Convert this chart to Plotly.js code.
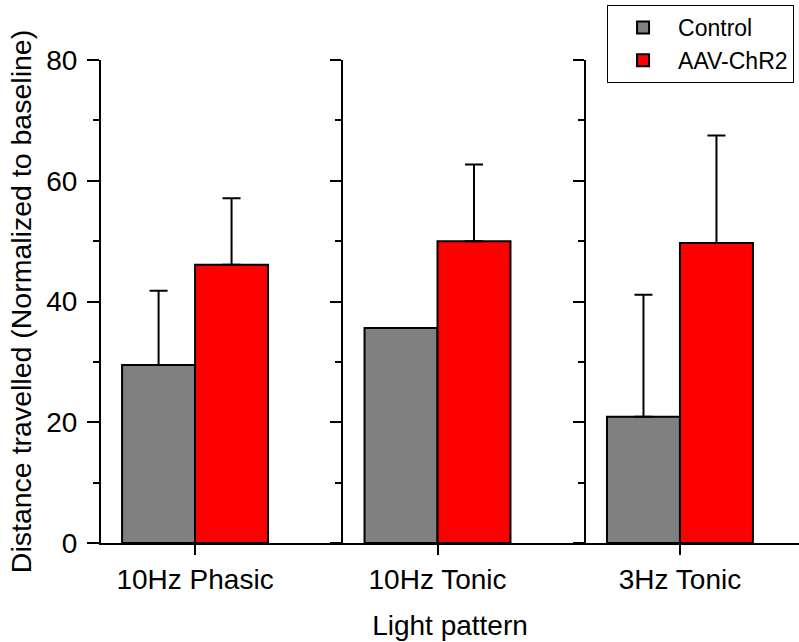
<!DOCTYPE html>
<html>
<head>
<meta charset="utf-8">
<script src="https://cdn.plot.ly/plotly-3.0.1.min.js"></script>
<style>html,body{margin:0;padding:0;background:#fff;}#chart{width:799px;height:642px;}</style>
</head>
<body>
<div id="chart"></div>
<script>
const categories = ["10Hz Phasic", "10Hz Tonic", "3Hz Tonic"];
const controlMean = [29.5, 35.6, 20.9];
const controlErr = [12.3, 0, 20.2];
const chr2Mean = [46.1, 50.0, 49.7];
const chr2Err = [11.0, 12.7, 17.8];
const seriesNames = ["Control", "AAV-ChR2"];
const yTickVals = [0, 20, 40, 60, 80];

const FONT = "Liberation Sans, Arial, sans-serif";

function errBar(vals) {
  return {type: "data", symmetric: false, array: vals, arrayminus: vals.map(() => 0),
          color: "#000", thickness: 2, width: 9};
}

const traces = [
  {type: "bar", name: seriesNames[0], x: categories, y: controlMean,
   marker: {color: "#808080", line: {color: "#000", width: 2}},
   error_y: errBar(controlErr)},
  {type: "bar", name: seriesNames[1], x: categories, y: chr2Mean,
   marker: {color: "#ff0000", line: {color: "#000", width: 2}},
   error_y: errBar(chr2Err)},
  // empty helper traces so the panel-divider axes are drawn
  {type: "scatter", x: [], y: [], yaxis: "y2", showlegend: false, hoverinfo: "skip"},
  {type: "scatter", x: [], y: [], yaxis: "y3", showlegend: false, hoverinfo: "skip"}
];

const sepAxis = (pos) => ({
  overlaying: "y", anchor: "free", position: pos, side: "left",
  range: [0, 80], showline: true, linecolor: "#000", linewidth: 2,
  showgrid: false, zeroline: false, showticklabels: false,
  ticks: "outside", ticklen: 11, tickwidth: 2, tickcolor: "#000",
  tickvals: yTickVals,
  minor: {dtick: 10, ticks: "outside", ticklen: 6, tickwidth: 2, tickcolor: "#000"}
});

const layout = {
  width: 799, height: 642,
  margin: {l: 101, r: 0, t: 60, b: 99, pad: 0},
  paper_bgcolor: "#fff", plot_bgcolor: "#fff",
  font: {family: FONT, size: 28, color: "#000"},
  barmode: "group", bargap: 0.398, bargroupgap: 0,
  showlegend: true,
  legend: {x: 0.725, y: 1.114, xanchor: "left", yanchor: "top",
           bgcolor: "#fff", bordercolor: "#000", borderwidth: 1,
           font: {family: FONT, size: 23, color: "#000"},
           itemwidth: 60, tracegroupgap: 0},
  xaxis: {type: "category", range: [-0.388, 2.491], automargin: false,
          showline: true, linecolor: "#000", linewidth: 2, showgrid: false, zeroline: false,
          ticks: "outside", ticklen: 10, tickwidth: 2, tickcolor: "#000",
          tickfont: {family: FONT, size: 28},
          title: {text: "Light pattern", font: {family: FONT, size: 28}, standoff: 22}},
  yaxis: {range: [0, 80], automargin: false,
          showline: true, linecolor: "#000", linewidth: 2, showgrid: false, zeroline: false,
          tickvals: yTickVals, ticks: "outside", ticklen: 12, tickwidth: 2, tickcolor: "#000",
          minor: {dtick: 10, ticks: "outside", ticklen: 6, tickwidth: 2, tickcolor: "#000"},
          ticklabelstandoff: 4,
          tickfont: {family: FONT, size: 28},
          title: {text: "Distance travelled (Normalized to baseline)", font: {family: FONT, size: 28.5}, standoff: 6}},
  yaxis2: sepAxis(241 / 698),
  yaxis3: sepAxis(484 / 698)
};

Plotly.newPlot("chart", traces, layout, {staticPlot: true, displayModeBar: false});
</script>
</body>
</html>
